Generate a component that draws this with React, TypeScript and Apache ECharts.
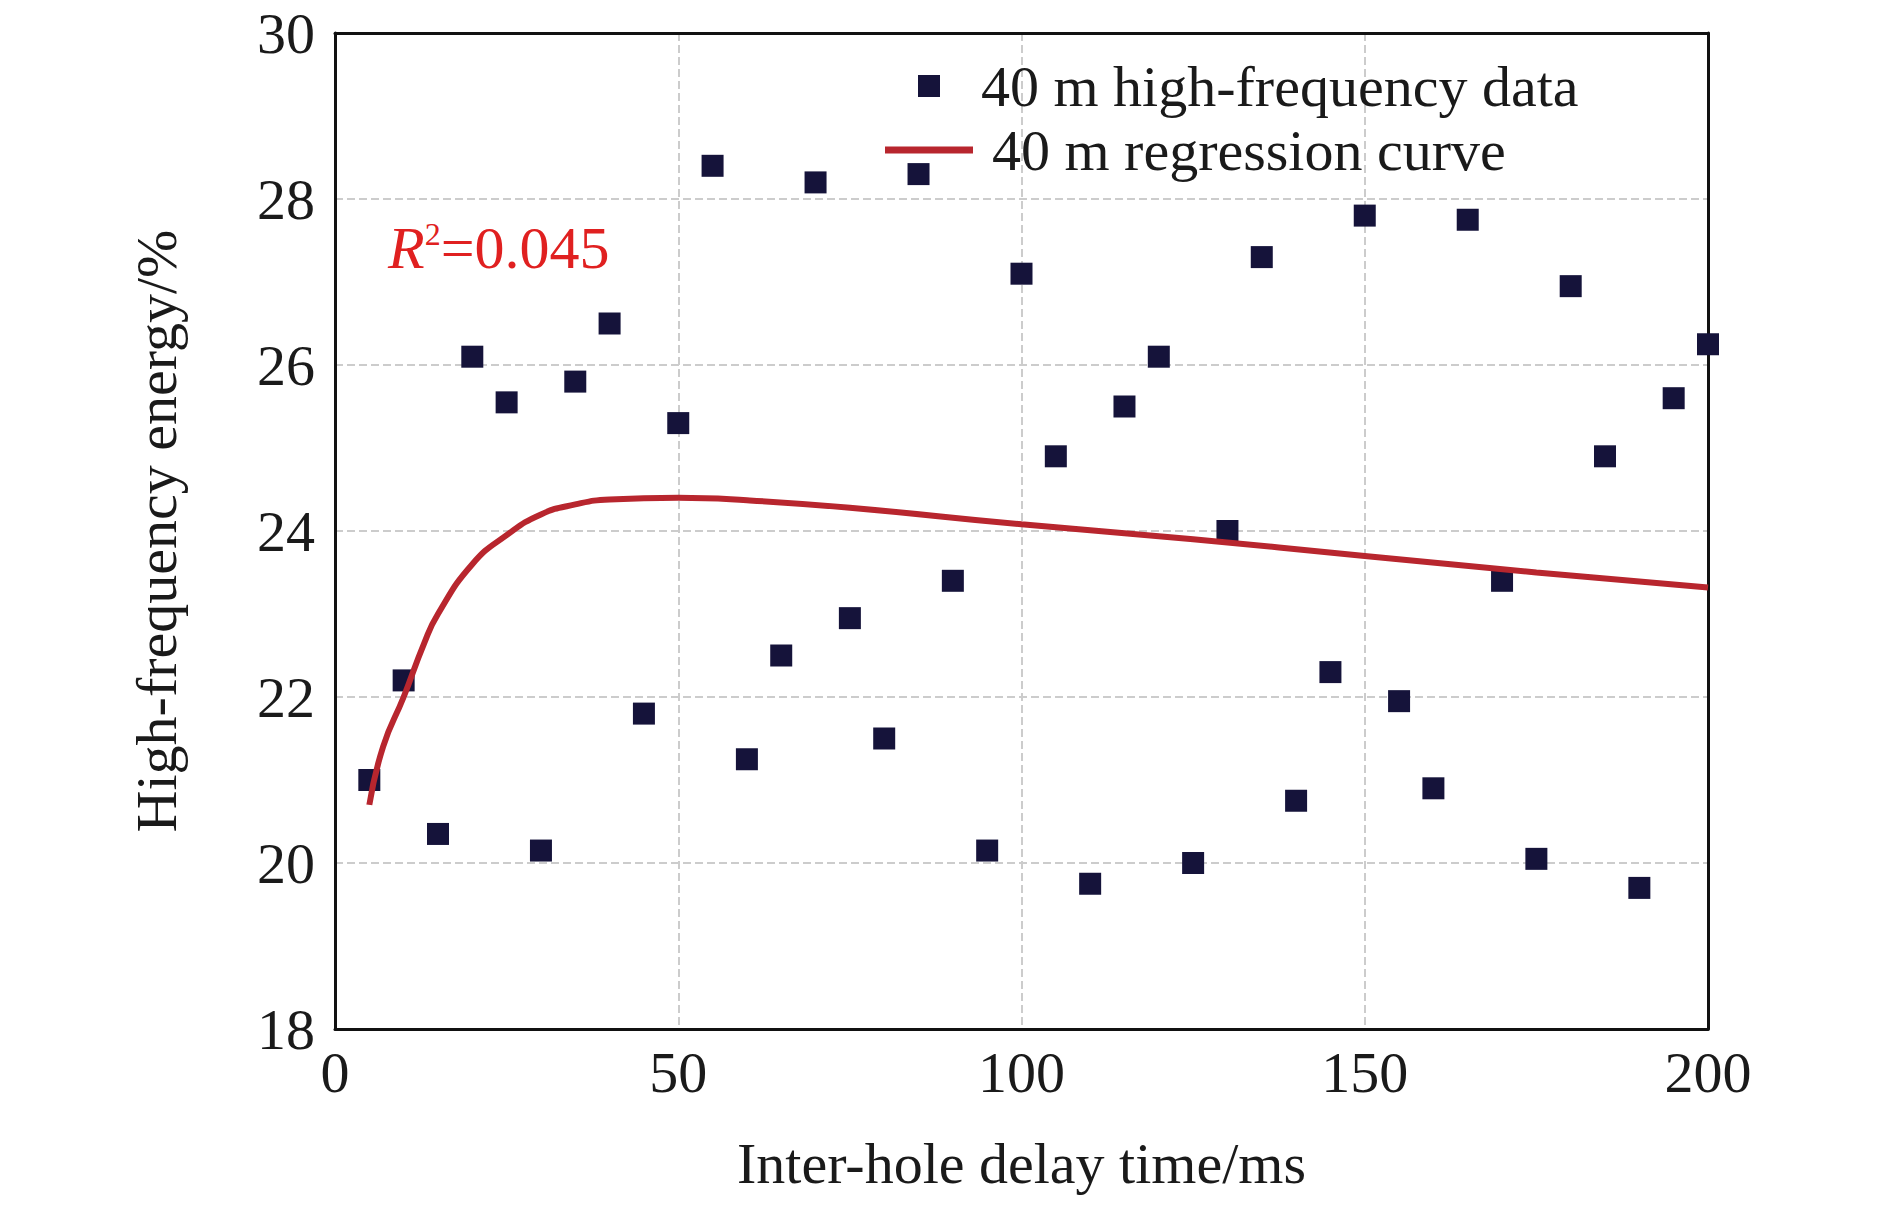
import React, { useEffect, useRef } from "react";
import * as echarts from "echarts";

const delays = [5,10,15,20,25,30,35,40,45,50,55,60,65,70,75,80,85,90,95,100,105,110,115,120,125,130,135,140,145,150,155,160,165,170,175,180,185,190,195,200];
const energy = [21.0,22.2,20.35,26.1,25.55,20.15,25.8,26.5,21.8,25.3,28.4,21.25,22.5,28.2,22.95,21.5,28.3,23.4,20.15,27.1,24.9,19.75,25.5,26.1,20.0,24.0,27.3,20.75,22.3,27.8,21.95,20.9,27.75,23.4,20.05,26.95,24.9,19.7,25.6,26.25];
const curveX = [5,7,10,13,15,20,25,30,35,40,50,60,75,100,125,150,175,200];
const curveY = [20.7,21.4,22.0,22.65,23.0,23.6,23.95,24.2,24.32,24.38,24.4,24.37,24.28,24.08,23.9,23.7,23.5,23.32];
const xTicks = [0,50,100,150,200];
const yTicks = [18,20,22,24,26,28,30];

const FONT = "Liberation Serif";
const TXT = { fontFamily: FONT, fontSize: 58, color: "#1a1a1a" };

export default function App() {
  const ref = useRef<HTMLDivElement>(null);
  useEffect(() => {
    const chart = echarts.init(ref.current!, null, { renderer: "svg" });
    const frameAxis = { axisLine: { show: true, onZero: false, lineStyle: { color: "#111", width: 3 } }, axisTick: { show: false }, axisLabel: { show: false }, splitLine: { show: false } };
    chart.setOption({
      animation: false,
      backgroundColor: "#fff",
      textStyle: { fontFamily: FONT },
      grid: { left: 335, right: 182, top: 33, bottom: 189 },
      legend: [
        {
          left: 913, top: 52, itemWidth: 22, itemHeight: 22, itemGap: 0,
          textStyle: { ...TXT, padding: [0, 0, 0, 36] },
          data: [{ name: "40 m high-frequency data", icon: "rect", itemStyle: { color: "#15133a" } }],
        },
        {
          left: 880, top: 116, itemWidth: 88, itemHeight: 7, itemGap: 0,
          textStyle: { ...TXT, padding: [0, 0, 0, 14] },
          data: [{ name: "40 m regression curve", icon: "rect", itemStyle: { color: "#b8262e" } }],
        },
      ],
      xAxis: [
        {
          type: "value", min: xTicks[0], max: xTicks[xTicks.length - 1], interval: 50,
          name: "Inter-hole delay time/ms", nameLocation: "middle", nameGap: 105,
          nameTextStyle: TXT,
          axisLine: { lineStyle: { color: "#111", width: 3 } }, axisTick: { show: false },
          axisLabel: { ...TXT, margin: 14 },
          splitLine: { show: true, lineStyle: { color: "#ccc", type: "dashed", width: 2 } },
        },
        { type: "value", position: "top", min: 0, max: 200, ...frameAxis },
      ],
      yAxis: [
        {
          type: "value", min: yTicks[0], max: yTicks[yTicks.length - 1], interval: 2,
          name: "High-frequency energy/%", nameLocation: "middle", nameGap: 150,
          nameTextStyle: TXT,
          axisLine: { lineStyle: { color: "#111", width: 3 } }, axisTick: { show: false },
          axisLabel: { ...TXT, margin: 20 },
          splitLine: { show: true, lineStyle: { color: "#ccc", type: "dashed", width: 2 } },
        },
        { type: "value", position: "right", min: 18, max: 30, ...frameAxis },
      ],
      series: [
        {
          name: "40 m high-frequency data", type: "scatter", symbol: "rect", symbolSize: 22,
          itemStyle: { color: "#15133a", opacity: 1 }, data: delays.map((d, i) => [d, energy[i]]), z: 3,
        },
        {
          name: "40 m regression curve", type: "line", smooth: true, showSymbol: false,
          lineStyle: { color: "#b8262e", width: 6 }, itemStyle: { color: "#b8262e" },
          data: curveX.map((d, i) => [d, curveY[i]]), z: 4,
        },
      ],
      graphic: [
        {
          type: "text", left: 388, top: 218,
          style: {
            text: "{i|R}{s|2}{n|=0.045}",
            rich: {
              i: { fontFamily: FONT, fontSize: 60, fontStyle: "italic", fill: "#e02020" },
              s: { fontFamily: FONT, fontSize: 32, fill: "#e02020", verticalAlign: "top", padding: [0, 0, 24, 0] },
              n: { fontFamily: FONT, fontSize: 60, fill: "#e02020" },
            },
          },
        },
      ],
    });
    return () => chart.dispose();
  }, []);
  return <div ref={ref} style={{ position: "fixed", left: 0, top: 0, width: 1890, height: 1218 }} />;
}
